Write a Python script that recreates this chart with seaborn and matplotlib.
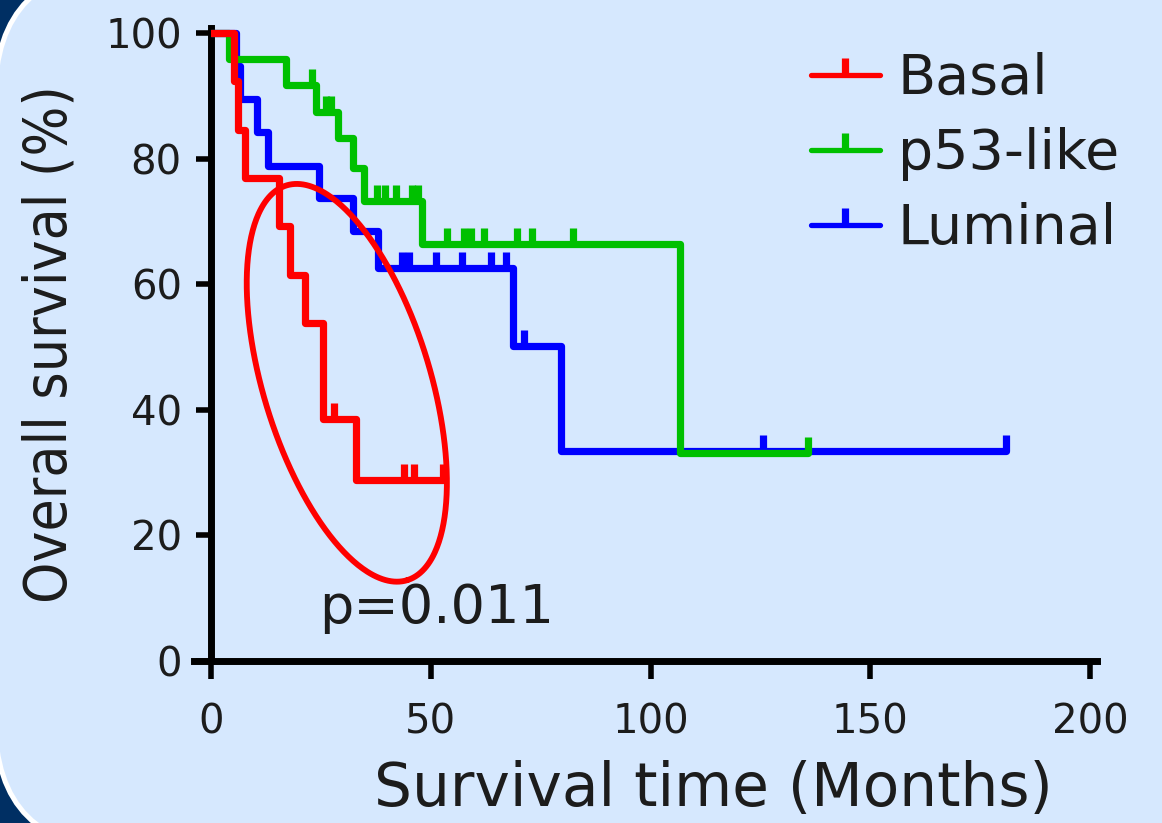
import numpy as np
import matplotlib
matplotlib.use("Agg")
import matplotlib.pyplot as plt
import seaborn as sns
from matplotlib.patches import FancyBboxPatch
from matplotlib.lines import Line2D
from matplotlib import font_manager as fm

# ---------------- data ----------------
groups = ["Basal", "p53-like", "Luminal"]

basal_t = [0, 5.2, 6.1, 7.7, 15.4, 18.0, 21.3, 25.5, 33.0, 52.9]
basal_s = [100, 92.3, 84.6, 76.9, 69.2, 61.5, 53.8, 38.5, 28.8, 28.8]
basal_cens = [28.0, 43.8, 46.3, 52.9]

p53_t = [0, 4.2, 17.0, 23.8, 28.8, 32.2, 34.7, 47.9, 106.6, 135.8]
p53_s = [100, 95.8, 91.7, 87.5, 83.3, 78.5, 73.3, 66.4, 33.2, 33.2]
p53_cens = [22.9, 26.2, 27.3, 37.8, 39.6, 42.2, 45.8, 47.0, 53.8, 57.6,
            59.2, 62.2, 69.7, 73.0, 82.3, 135.8]

lum_t = [0, 5.8, 6.6, 10.4, 12.9, 24.6, 32.2, 38.0, 68.8, 79.6, 180.8]
lum_s = [100, 94.7, 89.5, 84.2, 78.9, 73.7, 68.4, 62.6, 50.2, 33.4, 33.4]
lum_cens = [43.5, 45.0, 51.3, 57.2, 63.8, 67.2, 71.3, 125.7, 180.8]

x_ticks = [0, 50, 100, 150, 200]
y_ticks = [0, 20, 40, 60, 80, 100]
p_text = "p=0.011"

# ---------------- style ----------------
RED, GREEN, BLUE = "#FF0000", "#00C000", "#0000FF"
BG = "#D6E8FE"
NAVY = "#002F63"
TXT = "#1c1c1c"

sns.set_style("ticks")
plt.rcParams["font.family"] = ["DejaVu Sans"]

fig = plt.figure(figsize=(11.62, 8.23), dpi=100)
fig.patch.set_facecolor(NAVY)

# rounded light-blue slide panel with white border (pixel coordinates)
panel = FancyBboxPatch((-5, -26), 1500, 881,
                       boxstyle="round,pad=0,rounding_size=130",
                       transform=None, facecolor=BG, edgecolor="white",
                       linewidth=3.6, zorder=0)
fig.add_artist(panel)

ax = fig.add_axes([211 / 1162, 1 - 661 / 823, 879 / 1162, 633 / 823])
ax.set_facecolor("none")

LW = 5.2
series = [
    (lum_t, lum_s, lum_cens, BLUE, 3),
    (p53_t, p53_s, p53_cens, GREEN, 4),
    (basal_t, basal_s, basal_cens, RED, 5),
]
for t, s, cens, col, z in series:
    sns.lineplot(x=t, y=s, drawstyle="steps-post", color=col, linewidth=LW,
                 ax=ax, estimator=None, sort=False, zorder=z)
    cy = [s[np.searchsorted(t, c, side="right") - 1] for c in cens]
    sns.scatterplot(x=cens, y=cy, marker=2, s=130, linewidth=LW, color=col,
                    ax=ax, zorder=z, legend=False)

# highlight ellipse around the Basal curve
e_cx, e_cy = 30.9, 44.3
e_u = (13.74, -31.43)
e_v = (-18.16, -3.89)
tt = np.linspace(0, 2 * np.pi, 400)
ex = e_cx + e_u[0] * np.cos(tt) + e_v[0] * np.sin(tt)
ey = e_cy + e_u[1] * np.cos(tt) + e_v[1] * np.sin(tt)
ax.plot(ex, ey, color=RED, lw=4.2, zorder=6, solid_capstyle="round")

ax.text(0.1229, 0.06, p_text, transform=ax.transAxes, fontsize=39,
        color=TXT, ha="left", va="baseline")

# axes
ax.set_xlim(0, 200)
ax.set_ylim(0, 100.8)
ax.set_xticks(x_ticks)
ax.set_xticklabels([str(v) for v in x_ticks])
ax.set_yticks(y_ticks)
ax.set_yticklabels([str(v) for v in y_ticks])
for sp in ["top", "right"]:
    ax.spines[sp].set_visible(False)
for sp in ["left", "bottom"]:
    ax.spines[sp].set_linewidth(5.0)
    ax.spines[sp].set_color("black")
ax.spines["bottom"].set_bounds(-3.9, 201.5)
ax.tick_params(axis="y", direction="out", length=11, width=4, pad=10,
               labelsize=29, labelcolor=TXT, color="black")
ax.tick_params(axis="x", direction="out", length=13, width=4, pad=17,
               labelsize=29, labelcolor=TXT, color="black")

# y label font: condensed if available
names = {f.name for f in fm.fontManager.ttflist}
cond_dejavu = any(f.name == "DejaVu Sans" and str(f.stretch) in ("condensed", "semi-condensed")
                  for f in fm.fontManager.ttflist)
if "Liberation Sans Narrow" in names:
    ylab_kw = dict(family=["Liberation Sans Narrow"], fontsize=50)
elif cond_dejavu:
    ylab_kw = dict(family=["DejaVu Sans"], fontstretch="condensed", fontsize=42)
else:
    ylab_kw = dict(family=["DejaVu Sans"], fontsize=37)
ax.set_ylabel("Overall survival (%)", color=TXT, **ylab_kw)
ax.yaxis.set_label_coords(-0.183, 0.5)
ax.yaxis.label.set_va("center")

ax.set_xlabel("Survival time (Months)", fontsize=43, color=TXT)
ax.xaxis.set_label_coords(0.572, -0.157)

# legend
handles = [Line2D([0], [0], color=c, lw=3.8, marker=2, markersize=12, mew=5.2)
           for c in (RED, GREEN, BLUE)]
leg = ax.legend(handles, groups, loc="upper left",
                bbox_to_anchor=(0.6826, 0.962), frameon=False, fontsize=40,
                handlelength=1.24, handletextpad=0.32, labelspacing=0.38,
                borderpad=0, borderaxespad=0, numpoints=1)
for txt in leg.get_texts():
    txt.set_color(TXT)

fig.savefig("out.png", dpi=100, facecolor=fig.get_facecolor())
